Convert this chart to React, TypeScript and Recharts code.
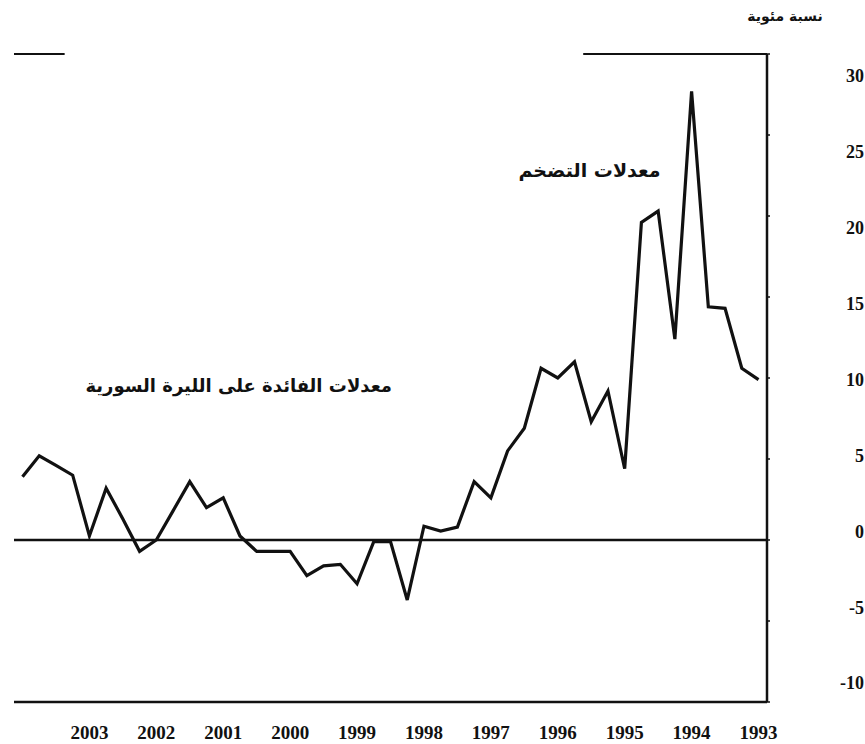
import { LineChart, Line, XAxis, YAxis, ReferenceLine } from "recharts";

// quarterly series, 1993Q1 .. 2004Q1 (the x axis runs right to left)
const QUARTERS = [
  "1993Q1", "1993Q2", "1993Q3", "1993Q4",
  "1994Q1", "1994Q2", "1994Q3", "1994Q4",
  "1995Q1", "1995Q2", "1995Q3", "1995Q4",
  "1996Q1", "1996Q2", "1996Q3", "1996Q4",
  "1997Q1", "1997Q2", "1997Q3", "1997Q4",
  "1998Q1", "1998Q2", "1998Q3", "1998Q4",
  "1999Q1", "1999Q2", "1999Q3", "1999Q4",
  "2000Q1", "2000Q2", "2000Q3", "2000Q4",
  "2001Q1", "2001Q2", "2001Q3", "2001Q4",
  "2002Q1", "2002Q2", "2002Q3", "2002Q4",
  "2003Q1", "2003Q2", "2003Q3", "2003Q4",
  "2004Q1",
];

const RATE = [
  9.9, 10.6, 14.3, 14.4,
  27.7, 12.4, 20.3, 19.6,
  4.4, 9.2, 7.3, 11.0,
  10.0, 10.6, 6.9, 5.5,
  2.6, 3.6, 0.8, 0.55,
  0.85, -3.7, -0.1, -0.1,
  -2.7, -1.5, -1.6, -2.2,
  -0.7, -0.7, -0.7, 0.25,
  2.6, 2.0, 3.6, 1.8,
  0.0, -0.7, 1.3, 3.2,
  0.25, 4.0, 4.6, 5.2,
  3.9,
];

const YEAR_TICKS = [1993, 1994, 1995, 1996, 1997, 1998, 1999, 2000, 2001, 2002, 2003];
const Y_TICKS = [30, 25, 20, 15, 10, 5, 0, -5, -10];

const X_PAD = 0.127;
const X_DOMAIN = [1993 - X_PAD, 2004 + X_PAD];

// top frame line is broken in the scan: only these two pieces survive
const TOP_LEFT_PIECE = [2004 + X_PAD, 2003.37];
const TOP_RIGHT_PIECE = [1995.62, 1993 - X_PAD];

const data = QUARTERS.map((q, i) => ({
  q,
  t: Number(q.slice(0, 4)) + (Number(q.slice(5)) - 1) / 4,
  rate: RATE[i],
}));

const NUM_FONT = "'Liberation Serif', serif";
const AR_FONT = "'DejaVu Sans', sans-serif";

function YearTick({ x, y, payload }: any) {
  return (
    <text x={x} y={y + 29} textAnchor="middle" fontFamily={NUM_FONT} fontWeight="bold" fontSize={19} fill="#111">
      {payload.value}
    </text>
  );
}

function ValueTick({ y, payload }: any) {
  // the printed labels sit a little off their tick marks
  const ly = 76 + (y - 54) * 0.937;
  return (
    <text x={864} y={ly} dy="0.35em" textAnchor="end" fontFamily={NUM_FONT} fontWeight="bold" fontSize={18} fill="#111">
      {payload.value}
    </text>
  );
}

const arLabel = {
  position: "absolute" as const,
  fontFamily: AR_FONT,
  fontWeight: "bold" as const,
  color: "#111",
  whiteSpace: "nowrap" as const,
  textAlign: "center" as const,
};

export default function App() {
  return (
    <div style={{ position: "absolute", left: 0, top: 0, width: 865, height: 744, background: "#fff" }}>
      <LineChart width={865} height={744} data={data} margin={{ top: 54, right: 0, bottom: 0, left: 14 }}>
        <XAxis
          dataKey="t"
          type="number"
          domain={X_DOMAIN}
          reversed
          ticks={YEAR_TICKS}
          interval={0}
          height={42}
          tickLine={false}
          axisLine={{ stroke: "#111", strokeWidth: 2.5 }}
          tick={<YearTick />}
        />
        <YAxis
          yAxisId="left"
          orientation="left"
          width={0}
          domain={[-10, 30]}
          tick={false}
          tickLine={false}
          axisLine={{ stroke: "#111", strokeWidth: 2.5 }}
        />
        <YAxis
          orientation="right"
          width={98}
          domain={[-10, 30]}
          ticks={Y_TICKS}
          interval={0}
          tickSize={3}
          tickLine={{ stroke: "#111", strokeWidth: 1.5 }}
          axisLine={{ stroke: "#111", strokeWidth: 2.5 }}
          tick={<ValueTick />}
        />
        <ReferenceLine y={0} stroke="#111" strokeWidth={2.5} />
        <ReferenceLine
          segment={[{ x: TOP_LEFT_PIECE[0], y: 30 }, { x: TOP_LEFT_PIECE[1], y: 30 }]}
          stroke="#111"
          strokeWidth={2}
        />
        <ReferenceLine
          segment={[{ x: TOP_RIGHT_PIECE[0], y: 30 }, { x: TOP_RIGHT_PIECE[1], y: 30 }]}
          stroke="#111"
          strokeWidth={2}
        />
        <Line
          dataKey="rate"
          type="linear"
          stroke="#111"
          strokeWidth={3.2}
          dot={false}
          isAnimationActive={false}
        />
      </LineChart>

      <div dir="rtl" style={{ ...arLabel, left: 745, top: 8, width: 80, fontSize: 14 }}>
        نسبة مئوية
      </div>
      <div dir="rtl" style={{ ...arLabel, left: 517, top: 159, width: 145, fontSize: 19 }}>
        معدلات التضخم
      </div>
      <div dir="rtl" style={{ ...arLabel, left: 88, top: 375, width: 304, fontSize: 18 }}>
        معدلات الفائدة على الليرة السورية
      </div>
    </div>
  );
}
